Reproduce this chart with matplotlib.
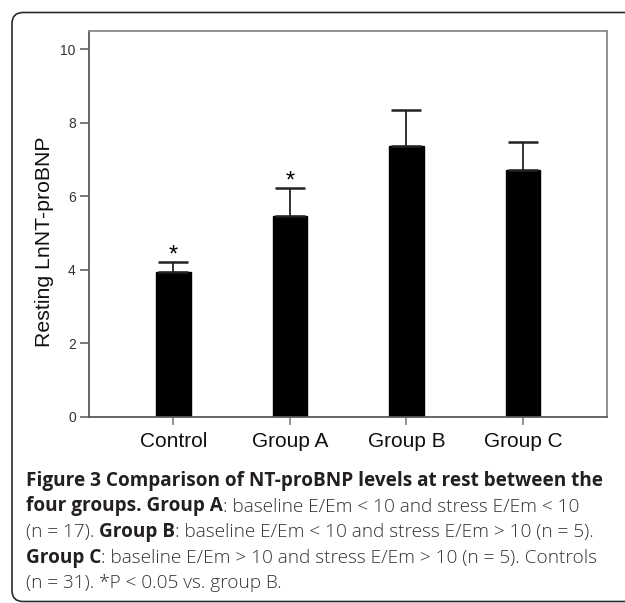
import numpy as np
import matplotlib
matplotlib.use("Agg")
import matplotlib.pyplot as plt
from matplotlib.patches import FancyBboxPatch
from matplotlib.transforms import IdentityTransform

# data
groups = ["Control", "Group A", "Group B", "Group C"]
means = [3.93, 5.46, 7.36, 6.71]
upper_err = [0.28, 0.76, 0.98, 0.76]
marked = [True, True, False, False]   # *P < 0.05 vs. group B
yticks = [0, 2, 4, 6, 8, 10]

caption = [
    [("Figure 3 Comparison of NT-proBNP levels at rest between the", True)],
    [("four groups. Group A", True), (": baseline E/Em < 10 and stress E/Em < 10", False)],
    [("(n = 17). ", False), ("Group B", True), (": baseline E/Em < 10 and stress E/Em > 10 (n = 5).", False)],
    [("Group C", True), (": baseline E/Em > 10 and stress E/Em > 10 (n = 5). Controls", False)],
    [("(n = 31). *P < 0.05 vs. group B.", False)],
]

W, H = 625, 603
fig = plt.figure(figsize=(W / 100, H / 100), dpi=100)
fig.patch.set_facecolor("white")

# outer rounded frame (runs off the right edge)
frame = FancyBboxPatch((12, 1.5), 700, 589, boxstyle="round,pad=0,rounding_size=11",
                       transform=IdentityTransform(), fill=False,
                       edgecolor="#2b2b2b", linewidth=1.2)
fig.patches.append(frame)

ax = fig.add_axes([89 / W, 1 - 417 / H, 518 / W, 386 / H])
x = np.arange(len(groups))
ax.bar(x, means, width=0.30, color="black", edgecolor="black", zorder=2)
ax.errorbar(x, means, yerr=[np.zeros(len(means)), upper_err], fmt="none",
            ecolor="#222222", elinewidth=1.3, capsize=10.5, capthick=1.8, zorder=3)
for xi, m, e, s in zip(x, means, upper_err, marked):
    if s:
        ax.annotate("*", (xi, m + e), xytext=(0, -3), textcoords="offset points",
                    ha="center", va="bottom", fontsize=17, family="Liberation Sans")

ax.set_xlim(-0.725, 3.721)
ax.set_ylim(0, 10.49)
ax.set_yticks(yticks)
ax.set_yticklabels([str(t) for t in yticks], fontsize=10, family="Liberation Sans", color="#333333")
ax.set_xticks(x)
ax.set_xticklabels(groups, fontsize=15, family="Liberation Sans", color="#111111")
ax.tick_params(axis="y", length=6.5, width=1.1, color="#555555", pad=3)
ax.tick_params(axis="x", length=6, width=1.1, color="#777777", pad=5)
for side in ["left", "bottom"]:
    ax.spines[side].set_color("#5a5a5a")
    ax.spines[side].set_linewidth(1.3)
for side in ["top", "right"]:
    ax.spines[side].set_color("#8a8a8a")
    ax.spines[side].set_linewidth(1.3)

ax.set_ylabel("Resting LnNT-proBNP", fontsize=15.3, family="Liberation Sans", color="#111111")
ax.yaxis.set_label_coords(-0.085, 0.453)
ax.yaxis.label.set_va("center")

# caption with bold / regular runs
renderer = fig.canvas.get_renderer()
cap_font = "Open Sans"
cap_size = 13.65
weights = {True: "bold", False: "light"}
colors = {True: "#231f20", False: "#333333"}

def space_width(weight):
    a = fig.text(0, 0, "xx", fontsize=cap_size, family=cap_font, fontweight=weight)
    b = fig.text(0, 0, "x x", fontsize=cap_size, family=cap_font, fontweight=weight)
    w = b.get_window_extent(renderer).width - a.get_window_extent(renderer).width
    a.remove()
    b.remove()
    return w

sp = {w: space_width(w) for w in weights.values()}

baselines = [486, 511.5, 537, 562.5, 588]
for line, yb in zip(caption, baselines):
    xp = 26
    for txt, bold in line:
        weight = weights[bold]
        if txt.startswith(" "):
            xp += sp[weight]
        core = txt.strip()
        t = fig.text(xp, H - yb, core, transform=IdentityTransform(), fontsize=cap_size,
                     family=cap_font, fontweight=weight, color=colors[bold],
                     ha="left", va="baseline")
        bb = t.get_window_extent(renderer)
        xp = bb.x1
        if txt.endswith(" "):
            xp += sp[weight]

fig.savefig("out.png", dpi=100, facecolor="white")
